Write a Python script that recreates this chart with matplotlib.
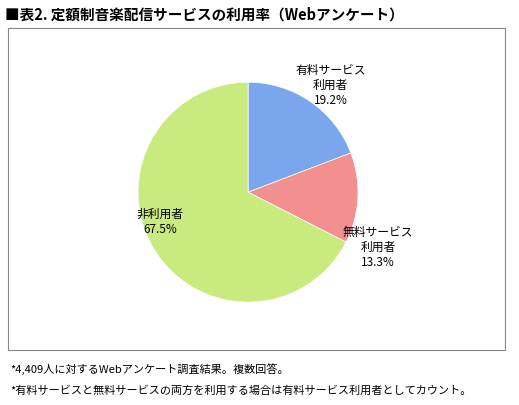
import matplotlib.pyplot as plt
from matplotlib.patches import Rectangle

plt.rcParams['font.family'] = ['Noto Sans CJK JP', 'DejaVu Sans']

labels = ["有料サービス\n利用者\n19.2%", "無料サービス\n利用者\n13.3%", "非利用者\n67.5%"]
values = [19.2, 13.3, 67.5]
colors = ["#7aa6ee", "#f28f8f", "#c9ea7e"]

fig = plt.figure(figsize=(5.19, 4.05), dpi=100)
fig.text(0.01, 0.965, "■表2. 定額制音楽配信サービスの利用率（Webアンケート）",
         fontsize=10.5, fontweight="bold", va="center")

# frame around the chart area
fig.patches.append(Rectangle((0.015, 0.135), 0.958, 0.795, transform=fig.transFigure,
                             fill=False, edgecolor="#888888", linewidth=0.8))

ax = fig.add_axes([0.266, 0.254, 0.424, 0.543])
ax.pie(values, colors=colors, startangle=90, counterclock=False,
       wedgeprops=dict(edgecolor="white", linewidth=0.5))
ax.set_xlim(-1, 1)
ax.set_ylim(-1, 1)
ax.set_aspect("equal")

ax.text(0.75, 0.97, labels[0], ha="center", va="center", fontsize=8.5)
ax.text(1.18, -0.5, labels[1], ha="center", va="center", fontsize=8.5)
ax.text(-0.8, -0.27, labels[2], ha="center", va="center", fontsize=8.5)

fig.text(0.02, 0.09, "*4,409人に対するWebアンケート調査結果。複数回答。", fontsize=8, va="center")
fig.text(0.02, 0.035, "*有料サービスと無料サービスの両方を利用する場合は有料サービス利用者としてカウント。",
         fontsize=8, va="center")

fig.savefig("out.png", dpi=100)
